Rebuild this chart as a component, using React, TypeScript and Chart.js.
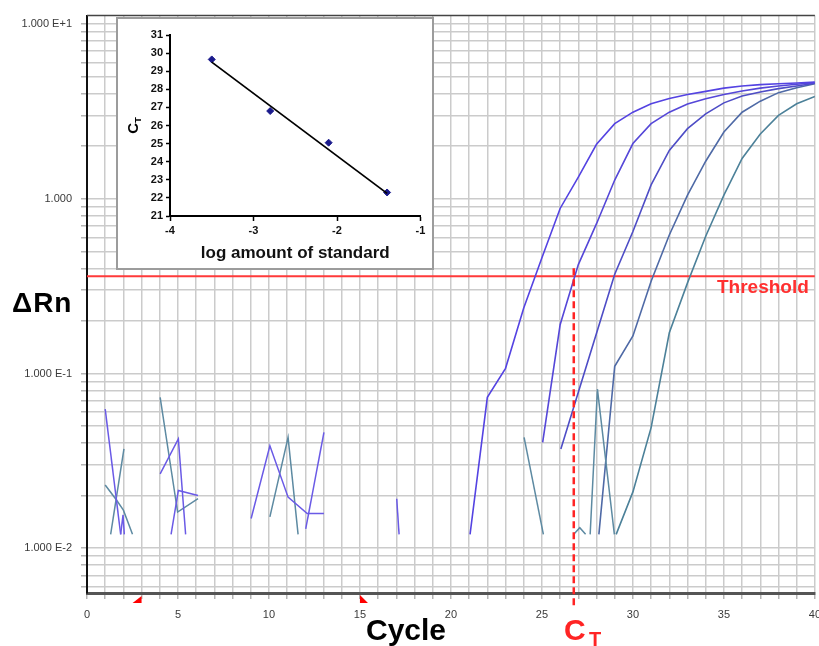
import React, { useEffect, useRef } from "react";
import { Chart, registerables } from "chart.js";

Chart.register(...registerables);

const FONT = "'Liberation Sans', Arial, Helvetica, sans-serif";

// ---------- main chart axes ----------
const cycleMin = 0;
const cycleMax = 40;
const cycleLabelEvery = 5;
const dRnMin = 0.00554;
const dRnMax = 11.18;
const dRnMajorValues = [0.01, 0.1, 1, 10];
const dRnMajorLabels = ["1.000 E-2", "1.000 E-1", "1.000", "1.000 E+1"];
const thresholdValue = 0.36;
const ctCycle = 26.75;
const baselineStartCycle = 3;
const baselineEndCycle = 15;

// ---------- amplification curves [cycle, ΔRn] ----------
const curve1: [number, number][] = [[21.05, 0.012], [22, 0.073], [23, 0.107], [24, 0.237], [25, 0.46], [26, 0.88], [27, 1.33], [28, 2.05], [29, 2.69], [30, 3.13], [31, 3.5], [32, 3.75], [33, 3.95], [34, 4.12], [35, 4.3], [36, 4.42], [37, 4.5], [38, 4.55], [39, 4.6], [40, 4.66]];
const curve2: [number, number][] = [[25.04, 0.0403], [26, 0.19], [27, 0.42], [28, 0.72], [29, 1.28], [30, 2.07], [31, 2.69], [32, 3.13], [33, 3.49], [34, 3.74], [35, 3.95], [36, 4.14], [37, 4.3], [38, 4.42], [39, 4.52], [40, 4.62]];
const curve3: [number, number][] = [[26.04, 0.037], [27, 0.078], [28, 0.17], [29, 0.37], [30, 0.65], [31, 1.2], [32, 1.89], [33, 2.52], [34, 3.06], [35, 3.54], [36, 3.87], [37, 4.08], [38, 4.27], [39, 4.42], [40, 4.58]];
const curve4: [number, number][] = [[28.13, 0.012], [29, 0.11], [30, 0.164], [31, 0.337], [32, 0.62], [33, 1.05], [34, 1.64], [35, 2.41], [36, 3.13], [37, 3.62], [38, 4.05], [39, 4.32], [40, 4.55]];
const curve5: [number, number][] = [[29.08, 0.012], [30, 0.021], [31, 0.049], [32, 0.171], [33, 0.33], [34, 0.61], [35, 1.05], [36, 1.7], [37, 2.35], [38, 3.0], [39, 3.5], [40, 3.85]];

// ---------- baseline noise fragments [cycle, ΔRn] ----------
const noiseViolet1: [number, number][] = [[1, 0.0625], [1.85, 0.012]];
const noiseViolet2: [number, number][] = [[1.85, 0.012], [1.98, 0.0155], [2.05, 0.012]];
const noiseTeal1: [number, number][] = [[1, 0.023], [1.6, 0.019], [2, 0.0165], [2.5, 0.012]];
const noiseTeal2: [number, number][] = [[1.3, 0.012], [2.03, 0.037]];
const noiseTeal3: [number, number][] = [[4.02, 0.073], [4.98, 0.0161], [6.1, 0.0192]];
const noiseViolet3: [number, number][] = [[4.02, 0.0266], [5.02, 0.0422], [5.42, 0.012]];
const noiseViolet4: [number, number][] = [[4.62, 0.012], [5.02, 0.0214], [6.1, 0.02]];
const noiseViolet5: [number, number][] = [[9.02, 0.0148], [10.05, 0.0386], [11.05, 0.0196], [12.1, 0.0158], [13.02, 0.0158]];
const noiseTeal4: [number, number][] = [[10.05, 0.0151], [11.05, 0.0431], [11.6, 0.012]];
const noiseViolet6: [number, number][] = [[12.02, 0.0129], [13.02, 0.046]];
const noiseViolet7: [number, number][] = [[17.02, 0.0192], [17.15, 0.012]];
const noiseTeal5: [number, number][] = [[24.02, 0.0431], [25.08, 0.012]];
const noiseTeal6: [number, number][] = [[26.75, 0.012], [27.08, 0.0131], [27.4, 0.012]];
const noiseTeal7: [number, number][] = [[27.65, 0.012], [28.05, 0.0813], [28.98, 0.012]];

// ---------- inset: standard curve ----------
const stdLogAmount = [-3.5, -2.8, -2.1, -1.4];
const stdCt = [29.65, 26.8, 25.05, 22.3];
const fitLogAmount = [-3.5, -1.4];
const fitCt = [29.5, 22.25];
const insetXTicks = [-4, -3, -2, -1];
const insetYMin = 21;
const insetYMax = 31;

// ---------- colours ----------
const curveColors = ["#5443e2", "#5547d8", "#4e4dc6", "#4f6aa6", "#4c8199"];
const violet = "#6a5ae6";
const teal = "#5d8aa2";
const gridColor = "#cbcbcb";
const red = "#ff2424";

const toXY = (pts: [number, number][]) => pts.map(([x, y]) => ({ x, y }));
const lineDs = (pts: [number, number][], color: string, width = 1.5) => ({
  data: toXY(pts),
  borderColor: color,
  backgroundColor: color,
  borderWidth: width,
  showLine: true,
  pointRadius: 0,
  fill: false,
  tension: 0,
});

function buildLogGrid(min: number, max: number) {
  const vals: number[] = [];
  for (let e = -3; e <= 1; e++) {
    for (let m = 1; m <= 9; m++) {
      const v = m * Math.pow(10, e);
      if (v >= min && v <= max) vals.push(v);
    }
  }
  return vals;
}

const mainDecor = {
  id: "mainDecor",
  afterDatasetsDraw(chart: any) {
    const { ctx, chartArea, scales } = chart;
    const xs = scales.x;
    const ys = scales.y;
    ctx.save();
    ctx.strokeStyle = "#444";
    ctx.lineWidth = 1.5;
    ctx.beginPath();
    ctx.moveTo(chartArea.left, chartArea.top);
    ctx.lineTo(chartArea.right, chartArea.top);
    ctx.stroke();
    const cx = xs.getPixelForValue(ctCycle);
    const ty = ys.getPixelForValue(thresholdValue);
    ctx.strokeStyle = red;
    ctx.lineWidth = 2.5;
    ctx.setLineDash([7, 4]);
    ctx.beginPath();
    ctx.moveTo(cx, ty - 8);
    ctx.lineTo(cx, chartArea.bottom + 15);
    ctx.stroke();
    ctx.setLineDash([]);
    ctx.fillStyle = "#ff0000";
    const b = chartArea.bottom;
    const sx = xs.getPixelForValue(baselineStartCycle);
    ctx.beginPath();
    ctx.moveTo(sx, b + 3);
    ctx.lineTo(sx, b + 10);
    ctx.lineTo(sx - 9, b + 10);
    ctx.closePath();
    ctx.fill();
    const ex = xs.getPixelForValue(baselineEndCycle);
    ctx.beginPath();
    ctx.moveTo(ex, b + 2);
    ctx.lineTo(ex, b + 10);
    ctx.lineTo(ex + 8, b + 10);
    ctx.closePath();
    ctx.fill();
    ctx.restore();
  },
};

const insetTitle = {
  id: "insetTitle",
  afterDraw(chart: any) {
    const { ctx, chartArea } = chart;
    const cy = (chartArea.top + chartArea.bottom) / 2;
    ctx.save();
    ctx.translate(20, cy);
    ctx.rotate(-Math.PI / 2);
    ctx.fillStyle = "#000";
    ctx.textBaseline = "alphabetic";
    ctx.font = `bold 15px ${FONT}`;
    const w = ctx.measureText("C").width;
    ctx.font = `bold 9px ${FONT}`;
    const wt = ctx.measureText("T").width;
    const start = -(w + wt) / 2;
    ctx.font = `bold 15px ${FONT}`;
    ctx.fillText("C", start, 0);
    ctx.font = `bold 9px ${FONT}`;
    ctx.fillText("T", start + w, 3);
    ctx.restore();
  },
};

export default function App() {
  const mainRef = useRef<HTMLCanvasElement>(null);
  const insetRef = useRef<HTMLCanvasElement>(null);

  useEffect(() => {
    const gridVals = buildLogGrid(dRnMin, dRnMax);
    const xTickVals: number[] = [];
    for (let c = cycleMin; c <= cycleMax; c++) xTickVals.push(c);

    const curves = [curve1, curve2, curve3, curve4, curve5];
    const violets = [noiseViolet1, noiseViolet2, noiseViolet3, noiseViolet4, noiseViolet5, noiseViolet6, noiseViolet7];
    const teals = [noiseTeal1, noiseTeal2, noiseTeal3, noiseTeal4, noiseTeal5, noiseTeal6, noiseTeal7];

    const datasets: any[] = [
      ...violets.map((p) => lineDs(p, violet, 1.5)),
      ...teals.map((p) => lineDs(p, teal, 1.5)),
      ...curves.map((p, i) => lineDs(p, curveColors[i], 1.6)),
      lineDs([[cycleMin, thresholdValue], [cycleMax, thresholdValue]], "#ff3a3a", 2),
    ];

    const main = new Chart(mainRef.current!, {
      type: "scatter",
      data: { datasets },
      options: {
        animation: false,
        responsive: false,
        devicePixelRatio: 1,
        events: [],
        layout: { padding: { top: 13, right: 10, left: 0, bottom: 0 } },
        plugins: { legend: { display: false }, tooltip: { enabled: false } },
        scales: {
          x: {
            type: "linear",
            min: cycleMin,
            max: cycleMax,
            afterBuildTicks: (s: any) => {
              s.ticks = xTickVals.map((v) => ({ value: v }));
            },
            afterFit: (s: any) => {
              s.height = 53;
            },
            ticks: {
              autoSkip: false,
              maxRotation: 0,
              padding: 9,
              color: "#3a3a3a",
              font: { size: 11, family: FONT },
              callback: (v: any) => (Number(v) % cycleLabelEvery === 0 ? String(v) : ""),
            },
            grid: { color: gridColor, lineWidth: 1.5, tickLength: 6, tickColor: "#b5b5b5" },
            border: { color: "#555", width: 3 },
          },
          y: {
            type: "logarithmic",
            min: dRnMin,
            max: dRnMax,
            afterBuildTicks: (s: any) => {
              s.ticks = gridVals.map((v) => ({ value: v }));
            },
            afterFit: (s: any) => {
              s.width = 87;
            },
            ticks: {
              autoSkip: false,
              padding: 9,
              color: "#3a3a3a",
              font: { size: 11, family: FONT },
              callback: (v: any) => {
                const i = dRnMajorValues.findIndex((m) => Math.abs(Number(v) / m - 1) < 1e-6);
                return i >= 0 ? dRnMajorLabels[i] : "";
              },
            },
            grid: { color: gridColor, lineWidth: 1.5, tickLength: 6, tickColor: "#b5b5b5" },
            border: { color: "#111", width: 2 },
          },
        },
      },
      plugins: [mainDecor],
    } as any);

    const inset = new Chart(insetRef.current!, {
      type: "scatter",
      data: {
        datasets: [
          {
            data: fitLogAmount.map((x, i) => ({ x, y: fitCt[i] })),
            showLine: true,
            borderColor: "#000",
            borderWidth: 1.8,
            pointRadius: 0,
          },
          {
            data: stdLogAmount.map((x, i) => ({ x, y: stdCt[i] })),
            showLine: false,
            pointStyle: "rectRot",
            pointRadius: 3.5,
            backgroundColor: "#1a1a8c",
            borderColor: "#1a1a8c",
          },
        ],
      },
      options: {
        animation: false,
        responsive: false,
        devicePixelRatio: 1,
        events: [],
        layout: { padding: { top: 16, right: 11.5, left: 0, bottom: 0 } },
        plugins: { legend: { display: false }, tooltip: { enabled: false } },
        scales: {
          x: {
            type: "linear",
            min: insetXTicks[0],
            max: insetXTicks[insetXTicks.length - 1],
            afterBuildTicks: (s: any) => {
              s.ticks = insetXTicks.map((v) => ({ value: v }));
            },
            afterFit: (s: any) => {
              s.height = 52;
            },
            ticks: { color: "#111", padding: 3, maxRotation: 0, font: { size: 11, weight: "bold", family: FONT } },
            grid: { drawOnChartArea: false, tickLength: 5, tickColor: "#000", tickWidth: 1.5 },
            border: { color: "#000", width: 2 },
            title: {
              display: true,
              text: "log amount of standard",
              color: "#111",
              font: { size: 17, weight: "bold", family: FONT },
              padding: { top: 0, bottom: 4 },
            },
          },
          y: {
            type: "linear",
            min: insetYMin,
            max: insetYMax,
            afterBuildTicks: (s: any) => {
              const t: any[] = [];
              for (let v = insetYMin; v <= insetYMax; v++) t.push({ value: v });
              s.ticks = t;
            },
            afterFit: (s: any) => {
              s.width = 52;
            },
            ticks: { color: "#111", padding: 3, font: { size: 11, weight: "bold", family: FONT } },
            grid: { drawOnChartArea: false, tickLength: 4, tickColor: "#000", tickWidth: 1.5 },
            border: { color: "#000", width: 2 },
          },
        },
      },
      plugins: [insetTitle],
    } as any);

    return () => {
      main.destroy();
      inset.destroy();
    };
  }, []);

  const label = (extra: React.CSSProperties): React.CSSProperties => ({
    position: "absolute",
    fontFamily: FONT,
    fontWeight: "bold",
    whiteSpace: "nowrap",
    margin: 0,
    ...extra,
  });

  return (
    <div
      style={{
        position: "fixed",
        left: 0,
        top: 0,
        width: 819,
        height: 646,
        overflow: "hidden",
        background: "#fff",
      }}
    >
      <canvas ref={mainRef} width={830} height={646} style={{ position: "absolute", left: 0, top: 0 }} />
      <div
        style={{
          position: "absolute",
          left: 116,
          top: 17,
          width: 318,
          height: 253,
          border: "2px solid #9c9c9c",
          boxSizing: "border-box",
          background: "#fff",
        }}
      >
        <canvas ref={insetRef} width={314} height={249} style={{ display: "block" }} />
      </div>
      <span style={label({ left: 12, top: 289, fontSize: 28, lineHeight: "28px", color: "#000", letterSpacing: "1px" })}>ΔRn</span>
      <span style={label({ left: 366, top: 615, fontSize: 30, lineHeight: "30px", color: "#000" })}>Cycle</span>
      <span style={label({ left: 564, top: 615, fontSize: 30, lineHeight: "30px", color: red })}>C</span>
      <span style={label({ left: 589, top: 629, fontSize: 20, lineHeight: "20px", color: red })}>T</span>
      <span style={label({ left: 717, top: 277, fontSize: 19, lineHeight: "19px", color: "#ff3030" })}>Threshold</span>
    </div>
  );
}
